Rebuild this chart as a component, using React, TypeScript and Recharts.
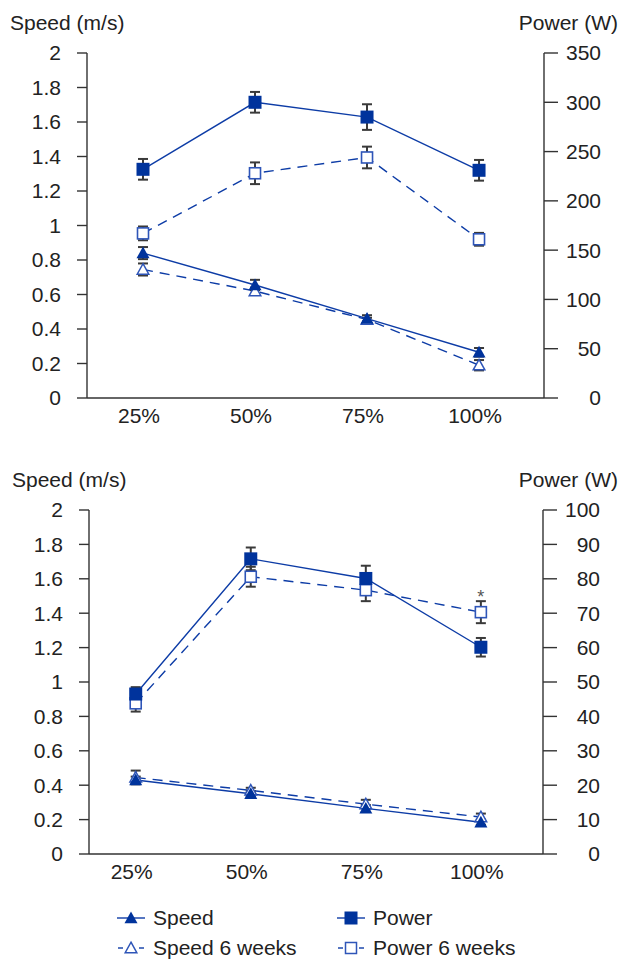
import React from "react";
import { ComposedChart, Line, XAxis, YAxis, ErrorBar, LabelList } from "recharts";

const categories = ["25%", "50%", "75%", "100%"];

// upper panel
const topSpeed = [0.84, 0.655, 0.46, 0.265];
const topSpeedErr = [0.035, 0.03, 0.02, 0.025];
const topSpeed6 = [0.745, 0.62, 0.455, 0.19];
const topSpeed6Err = [0.035, 0.02, 0.01, 0.03];
const topPower = [232, 300, 285, 231];
const topPowerErr = [10.5, 10.5, 13, 10.5];
const topPower6 = [167, 228, 244, 161];
const topPower6Err = [7, 11, 11, 6.5];

// lower panel
const botSpeed = [0.43, 0.35, 0.265, 0.185];
const botSpeedErr = [0.02, 0.015, 0.02, 0.015];
const botSpeed6 = [0.445, 0.37, 0.29, 0.215];
const botSpeed6Err = [0.04, 0.015, 0.025, 0.02];
const botPower = [46.5, 85.8, 80.1, 60.1];
const botPowerErr = [2, 3.3, 3.7, 2.7];
const botPower6 = [43.8, 80.6, 76.7, 70.3];
const botPower6Err = [2.4, 2.9, 3.2, 3.2];
const botSig = ["", "", "", "*"];

const speedTicks = [0, 0.2, 0.4, 0.6, 0.8, 1, 1.2, 1.4, 1.6, 1.8, 2];
const topPowerTicks = [0, 50, 100, 150, 200, 250, 300, 350];
const botPowerTicks = [0, 10, 20, 30, 40, 50, 60, 70, 80, 90, 100];

const legendLabels = ["Speed", "Power", "Speed 6 weeks", "Power 6 weeks"];

const LINE = "#0d3ca6";
const FILL = "#00339c";
const OPEN = "#2e55b8";
const ERR = "#3a3a3a";
const AXIS = "#333";
const TEXT = "#222";
const FS = 21;
const FONT = "'Liberation Sans', Arial, Helvetica, sans-serif";

const filledSquare = (p: any) => (
  <rect key={p.key} x={p.cx - 6.5} y={p.cy - 6.5} width={13} height={13} fill={FILL} />
);
const openSquare = (p: any) => (
  <rect key={p.key} x={p.cx - 5.5} y={p.cy - 5.5} width={11} height={11} fill="#fff" stroke={OPEN} strokeWidth={1.6} />
);
const triPath = (cx: number, cy: number, r: number) =>
  `M${cx},${cy - r} L${cx + r},${cy + r * 0.8} L${cx - r},${cy + r * 0.8} Z`;
const filledTri = (p: any) => <path key={p.key} d={triPath(p.cx, p.cy, 6.5)} fill={FILL} />;
const openTri = (p: any) => (
  <path key={p.key} d={triPath(p.cx, p.cy, 5.8)} fill="#fff" stroke={OPEN} strokeWidth={1.5} />
);

const RightTick = (p: any) => (
  <text x={p.x + 43} y={p.y} dy="0.355em" textAnchor="end" fill={TEXT} fontSize={FS}>
    {p.payload.value}
  </text>
);
const XLabel = (p: any) => (
  <text x={p.x - 4} y={p.y} dy="0.71em" textAnchor="middle" fill={TEXT} fontSize={FS}>
    {categories[Math.floor(p.payload.value)]}
  </text>
);

type PanelProps = {
  top: number;
  speed: number[];
  speedErr: number[];
  speed6: number[];
  speed6Err: number[];
  power: number[];
  powerErr: number[];
  power6: number[];
  power6Err: number[];
  sig?: string[];
  powerTicks: number[];
  plotH: number;
  leftW: number;
  rightW: number;
  xDomain: [number, number];
  xBounds: number[];
};

function Panel(props: PanelProps) {
  const data = categories.map((c, i) => ({
    x: i + 0.5,
    speed: props.speed[i],
    speedErr: props.speedErr[i],
    speed6: props.speed6[i],
    speed6Err: props.speed6Err[i],
    power: props.power[i],
    powerErr: props.powerErr[i],
    power6: props.power6[i],
    power6Err: props.power6Err[i],
    sig: props.sig ? props.sig[i] : "",
  }));
  const plotTop = 53;
  const h = plotTop + props.plotH + 10 + 30 + 2;
  const pMax = props.powerTicks[props.powerTicks.length - 1];

  return (
    <div style={{ position: "absolute", left: 0, top: props.top, width: 627, height: h }}>
      <div style={{ position: "absolute", left: props.leftW - 77, top: plotTop - 41, fontSize: FS, lineHeight: "21px", color: TEXT }}>
        Speed (m/s)
      </div>
      <div style={{ position: "absolute", right: 9, top: plotTop - 41, fontSize: FS, lineHeight: "21px", color: TEXT }}>
        Power (W)
      </div>
      <ComposedChart width={627} height={h} data={data} margin={{ top: plotTop, right: 0, bottom: 2, left: 0 }}>
        <XAxis
          xAxisId="grid"
          type="number"
          dataKey="x"
          domain={props.xDomain}
          ticks={props.xBounds}
          allowDataOverflow
          height={10}
          tickSize={10}
          tick={false}
          stroke={AXIS}
          strokeWidth={1.4}
        />
        <XAxis
          xAxisId="labels"
          type="number"
          dataKey="x"
          domain={props.xDomain}
          ticks={data.map((d) => d.x)}
          allowDataOverflow
          height={30}
          tickSize={0}
          tickMargin={0}
          axisLine={false}
          tickLine={false}
          tick={XLabel}
        />
        <YAxis
          yAxisId="speed"
          orientation="left"
          width={props.leftW}
          domain={[0, 2]}
          ticks={speedTicks}
          tickSize={10}
          tickMargin={16}
          stroke={AXIS}
          strokeWidth={1.4}
          tick={{ fill: TEXT, fontSize: FS }}
        />
        <YAxis
          yAxisId="power"
          orientation="right"
          width={props.rightW}
          domain={[0, pMax]}
          ticks={props.powerTicks}
          tickSize={14}
          tickMargin={0}
          stroke={AXIS}
          strokeWidth={1.4}
          tick={RightTick}
        />
        <Line xAxisId="grid" yAxisId="speed" dataKey="speed6" stroke={LINE} strokeWidth={1.4} strokeDasharray="10 7" dot={openTri} isAnimationActive={false}>
          <ErrorBar dataKey="speed6Err" width={5} stroke={ERR} strokeWidth={2} direction="y" />
        </Line>
        <Line xAxisId="grid" yAxisId="speed" dataKey="speed" stroke={LINE} strokeWidth={1.4} dot={filledTri} isAnimationActive={false}>
          <ErrorBar dataKey="speedErr" width={5} stroke={ERR} strokeWidth={2} direction="y" />
        </Line>
        <Line xAxisId="grid" yAxisId="power" dataKey="power6" stroke={LINE} strokeWidth={1.4} strokeDasharray="10 7" dot={openSquare} isAnimationActive={false}>
          <ErrorBar dataKey="power6Err" width={5} stroke={ERR} strokeWidth={2} direction="y" />
          <LabelList dataKey="sig" position="top" offset={9} fill="#555" fontSize={18} />
        </Line>
        <Line xAxisId="grid" yAxisId="power" dataKey="power" stroke={LINE} strokeWidth={1.4} dot={filledSquare} isAnimationActive={false}>
          <ErrorBar dataKey="powerErr" width={5} stroke={ERR} strokeWidth={2} direction="y" />
        </Line>
      </ComposedChart>
    </div>
  );
}

function LegendIcon({ idx }: { idx: number }) {
  const dashed = idx >= 2;
  const square = idx % 2 === 1;
  const mark = square
    ? dashed
      ? <rect x={9.5} y={5.5} width={11} height={11} fill="#fff" stroke={OPEN} strokeWidth={1.5} />
      : <rect x={8.5} y={4.5} width={13} height={13} fill={FILL} />
    : dashed
      ? <path d={triPath(15, 11, 5.8)} fill="#fff" stroke={OPEN} strokeWidth={1.5} />
      : <path d={triPath(15, 11, 6.5)} fill={FILL} />;
  return (
    <svg width={30} height={22} style={{ display: "block" }}>
      {dashed ? (
        <>
          <line x1={2} y1={11} x2={7} y2={11} stroke={LINE} strokeWidth={1.4} />
          <line x1={23} y1={11} x2={28} y2={11} stroke={LINE} strokeWidth={1.4} />
        </>
      ) : (
        <line x1={1} y1={11} x2={29} y2={11} stroke={LINE} strokeWidth={1.4} />
      )}
      {mark}
    </svg>
  );
}

export default function App() {
  const legendX = [116, 336];
  const legendY = [918, 948];
  return (
    <div style={{ position: "absolute", left: 0, top: 0, width: 627, height: 959, background: "#fff", fontFamily: FONT }}>
      <Panel
        top={0}
        speed={topSpeed}
        speedErr={topSpeedErr}
        speed6={topSpeed6}
        speed6Err={topSpeed6Err}
        power={topPower}
        powerErr={topPowerErr}
        power6={topPower6}
        power6Err={topPower6Err}
        powerTicks={topPowerTicks}
        plotH={345}
        leftW={87}
        rightW={83}
        xDomain={[0, 4.08]}
        xBounds={[0, 1, 2, 3, 4.08]}
      />
      <Panel
        top={457}
        speed={botSpeed}
        speedErr={botSpeedErr}
        speed6={botSpeed6}
        speed6Err={botSpeed6Err}
        power={botPower}
        powerErr={botPowerErr}
        power6={botPower6}
        power6Err={botPower6Err}
        sig={botSig}
        powerTicks={botPowerTicks}
        plotH={344}
        leftW={89}
        rightW={84}
        xDomain={[0.094, 4.04]}
        xBounds={[0.094, 1.13, 2.08, 3.03, 4.04]}
      />
      {legendLabels.map((label, i) => (
        <div
          key={label}
          style={{
            position: "absolute",
            left: legendX[i % 2],
            top: legendY[Math.floor(i / 2)] - 12,
            height: 24,
            display: "flex",
            alignItems: "center",
            gap: 7,
            fontSize: FS,
            color: TEXT,
          }}
        >
          <LegendIcon idx={i} />
          <span>{label}</span>
        </div>
      ))}
    </div>
  );
}
